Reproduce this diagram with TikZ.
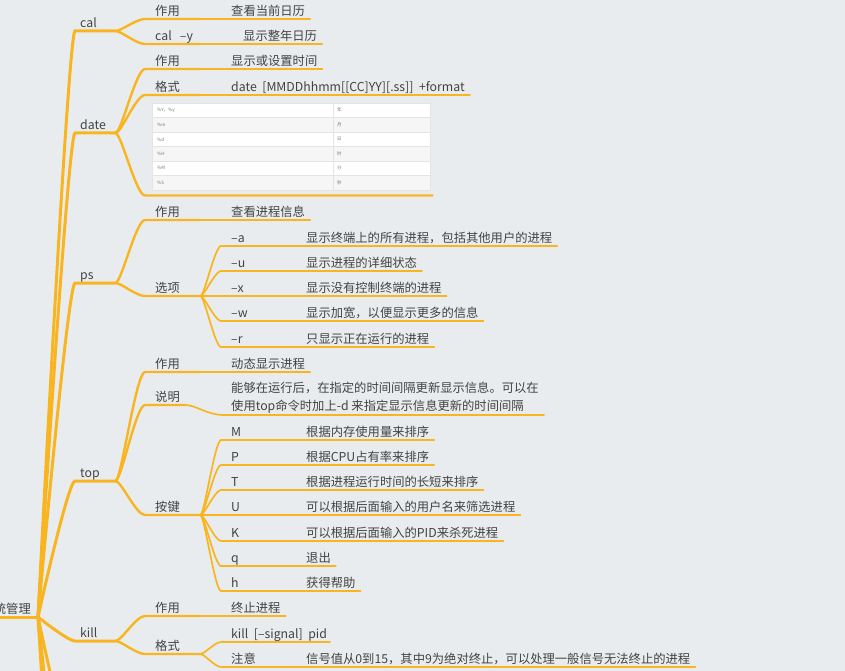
\documentclass[tikz,border=0pt]{standalone}
\usepackage{fontspec}
\setmainfont{Noto Sans CJK SC}
\definecolor{mapbg}{RGB}{233,236,239}
\definecolor{branchc}{RGB}{248,181,32}
\definecolor{inkc}{RGB}{66,66,66}
\definecolor{cellink}{RGB}{120,120,120}
\definecolor{tabrule}{RGB}{228,228,228}
\definecolor{tabrow}{RGB}{246,246,246}
\tikzset{
  mmtext/.style={inner xsep=0pt, inner ysep=1.2pt, text depth=2.3pt, text=inkc,
    font=\fontsize{12.3}{18}\selectfont},
  topic/.style={mmtext, anchor=south west, text width=35pt},
  subtopic/.style={mmtext, anchor=south west, text width=45pt},
  keyitem/.style={mmtext, anchor=south west, text width=65pt},
  valitem/.style={mmtext, anchor=south west},
  cell/.style={anchor=west, inner sep=0pt, text=cellink, font=\fontsize{4.5}{5}\selectfont},
  fmttab/.style={anchor=north west, fill=white, draw=tabrule, line width=0.5pt,
    minimum width=278pt, minimum height=87pt, inner sep=0pt},
  trunk/.style={draw=branchc, line width=3pt, line cap=round},
  bough/.style={draw=branchc, line width=2.4pt, line cap=round},
  twig/.style={draw=branchc, line width=1.7pt, line cap=round},
  leaf/.style={draw=branchc, line width=1.2pt, line cap=round},
  rootcurve/.style={to path={.. controls (\tikztostart) and +(-7,0) .. (\tikztotarget)}},
  sway/.style={to path={.. controls +(#1,0) and +(-1.5*#1,0) .. (\tikztotarget)}},
  sway/.default=6
}
\begin{document}
\begin{tikzpicture}[x=1pt,y=-1pt]
\fill[mapbg] (0,0) rectangle (845,671);
\useasboundingbox (0,0) rectangle (845,671);

% root
\coordinate (hub) at (38,617);
\node[mmtext, anchor=south east] (root) at (31,617) {系统管理};
\draw[trunk] ([xshift=-10pt]root.south west) -- (hub);

% first level
\node[topic] (cal) at (80,31) {cal};
\node[topic] (date) at (80,133) {date};
\node[topic] (ps) at (80,283) {ps};
\node[topic] (top) at (80,481) {top};
\node[topic] (kill) at (80,641) {kill};
\foreach \n in {cal,date,ps,top,kill}
  \draw[trunk] (hub) to[rootcurve] ([xshift=-5pt]\n.south west) -- (\n.south east);
% branches running on below the page
\coordinate (moreA) at (75,760);
\coordinate (moreB) at (75,900);
\coordinate (moreC) at (75,1100);
\foreach \n in {moreA,moreB,moreC}
  \draw[trunk] (hub) to[rootcurve] (\n);

% cal
\node[subtopic] (calUse) at (155,19) {作用};
\node[valitem] (calUseV) at (231,19) {查看当前日历};
\node[subtopic] (calY) at (155,44) {cal\ \ –y};
\node[valitem] (calYV) at (243,44) {显示整年日历};
\draw[bough] (cal.south east) to[sway] ([xshift=-10pt]calUse.south west) -- (calUse.south east);
\draw[twig] (calUse.south east) -- ([xshift=5pt]calUseV.south east);
\draw[bough] (cal.south east) to[sway] ([xshift=-10pt]calY.south west) -- (calY.south east);
\draw[twig] (calY.south east) -- ([xshift=5pt]calYV.south east);

% date
\node[subtopic] (dateUse) at (155,69) {作用};
\node[valitem] (dateUseV) at (231,69) {显示或设置时间};
\node[subtopic] (dateFmt) at (155,95) {格式};
\node[valitem] (dateFmtV) at (231,95) {date\ \ [MMDDhhmm[[CC]YY][.ss]]\ \ +format};
\node[fmttab] (fmt) at (152,103) {};
\foreach \i in {2,4,6}
  \fill[tabrow] (152.5,{103+(\i-1)*14.5}) rectangle (429.5,{103+\i*14.5});
\foreach \i in {1,...,5}
  \draw[tabrule, line width=0.5pt] (152,{103+\i*14.5}) -- (430,{103+\i*14.5});
\draw[tabrule, line width=0.5pt] (333,103) -- (333,190);
\foreach \k/\v [count=\i] in {\%Y，\%y/年,\%m/月,\%d/日,\%H/时,\%M/分,\%S/秒} {
  \node[cell] (fk\i) at (157,{103+(\i-0.5)*14.5}) {\k};
  \node[cell] (fv\i) at (337,{103+(\i-0.5)*14.5}) {\v};
}
\draw[bough] (date.south east) to[sway] ([xshift=-10pt]dateUse.south west) -- (dateUse.south east);
\draw[twig] (dateUse.south east) -- ([xshift=5pt]dateUseV.south east);
\draw[bough] (date.south east) to[sway] ([xshift=-10pt]dateFmt.south west) -- (dateFmt.south east);
\draw[twig] (dateFmt.south east) -- ([xshift=5pt]dateFmtV.south east);
\draw[bough] (date.south east) to[sway] ([shift={(-7,5)}]fmt.south west) -- ([shift={(2,5)}]fmt.south east);

% ps
\node[subtopic] (psUse) at (155,220) {作用};
\node[valitem] (psUseV) at (231,220) {查看进程信息};
\node[subtopic] (psOpt) at (155,296) {选项};
\draw[bough] (ps.south east) to[sway] ([xshift=-10pt]psUse.south west) -- (psUse.south east);
\draw[twig] (psUse.south east) -- ([xshift=5pt]psUseV.south east);
\draw[bough] (ps.south east) to[sway] ([xshift=-10pt]psOpt.south west) -- (psOpt.south east);
\foreach \k/\v/\y [count=\i] in {–a/显示终端上的所有进程，包括其他用户的进程/246,
    –u/显示进程的详细状态/271, –x/显示没有控制终端的进程/296,
    –w/显示加宽，以便显示更多的信息/321, –r/只显示正在运行的进程/347} {
  \node[keyitem] (psk\i) at (231,\y) {\k};
  \node[valitem] (psv\i) at (306,\y) {\v};
  \draw[twig] (psOpt.south east) to[sway=4] ([xshift=-10pt]psk\i.south west) -- (psk\i.south east);
  \draw[leaf] (psk\i.south east) -- ([xshift=5pt]psv\i.south east);
}

% top
\node[subtopic] (topUse) at (155,372) {作用};
\node[valitem] (topUseV) at (231,372) {动态显示进程};
\node[subtopic] (topNote) at (155,405) {说明};
\node[valitem, text depth={}, align=left] (topNoteV) at (231,415)
  {能够在运行后，在指定的时间间隔更新显示信息。可以在\\使用top命令时加上-d 来指定显示信息更新的时间间隔};
\node[subtopic] (topKey) at (155,515) {按键};
\draw[bough] (top.south east) to[sway] ([xshift=-10pt]topUse.south west) -- (topUse.south east);
\draw[twig] (topUse.south east) -- ([xshift=5pt]topUseV.south east);
\draw[bough] (top.south east) to[sway] ([xshift=-10pt]topNote.south west) -- ([xshift=-15pt]topNote.south east);
\draw[twig] ([xshift=-15pt]topNote.south east) to[sway=10] ([xshift=-8pt]topNoteV.south west) -- ([xshift=5pt]topNoteV.south east);
\draw[bough] (top.south east) to[sway] ([xshift=-10pt]topKey.south west) -- (topKey.south east);
\foreach \k/\v/\y [count=\i] in {M/根据内存使用量来排序/440, P/根据CPU占有率来排序/465,
    T/根据进程运行时间的长短来排序/490, U/可以根据后面输入的用户名来筛选进程/515,
    K/可以根据后面输入的PID来杀死进程/541, q/退出/566, h/获得帮助/591} {
  \node[keyitem] (topk\i) at (231,\y) {\k};
  \node[valitem] (topv\i) at (306,\y) {\v};
  \draw[twig] (topKey.south east) to[sway=4] ([xshift=-10pt]topk\i.south west) -- (topk\i.south east);
  \draw[leaf] (topk\i.south east) -- ([xshift=5pt]topv\i.south east);
}

% kill
\node[subtopic] (killUse) at (155,616) {作用};
\node[valitem] (killUseV) at (231,616) {终止进程};
\node[subtopic] (killFmt) at (155,654) {格式};
\node[valitem] (killSig) at (231,642) {kill\ \ [–signal]\ \ pid};
\node[keyitem] (killWarn) at (231,667) {注意};
\node[valitem] (killWarnV) at (306,667) {信号值从0到15，其中9为绝对终止，可以处理一般信号无法终止的进程};
\draw[bough] (kill.south east) to[sway] ([xshift=-10pt]killUse.south west) -- (killUse.south east);
\draw[twig] (killUse.south east) -- ([xshift=5pt]killUseV.south east);
\draw[bough] (kill.south east) to[sway] ([xshift=-10pt]killFmt.south west) -- (killFmt.south east);
\draw[twig] (killFmt.south east) to[sway=4] ([xshift=-10pt]killSig.south west) -- ([xshift=3pt]killSig.south east);
\draw[twig] (killFmt.south east) to[sway=4] ([xshift=-10pt]killWarn.south west) -- (killWarn.south east);
\draw[leaf] (killWarn.south east) -- ([xshift=5pt]killWarnV.south east);
\end{tikzpicture}
\end{document}
